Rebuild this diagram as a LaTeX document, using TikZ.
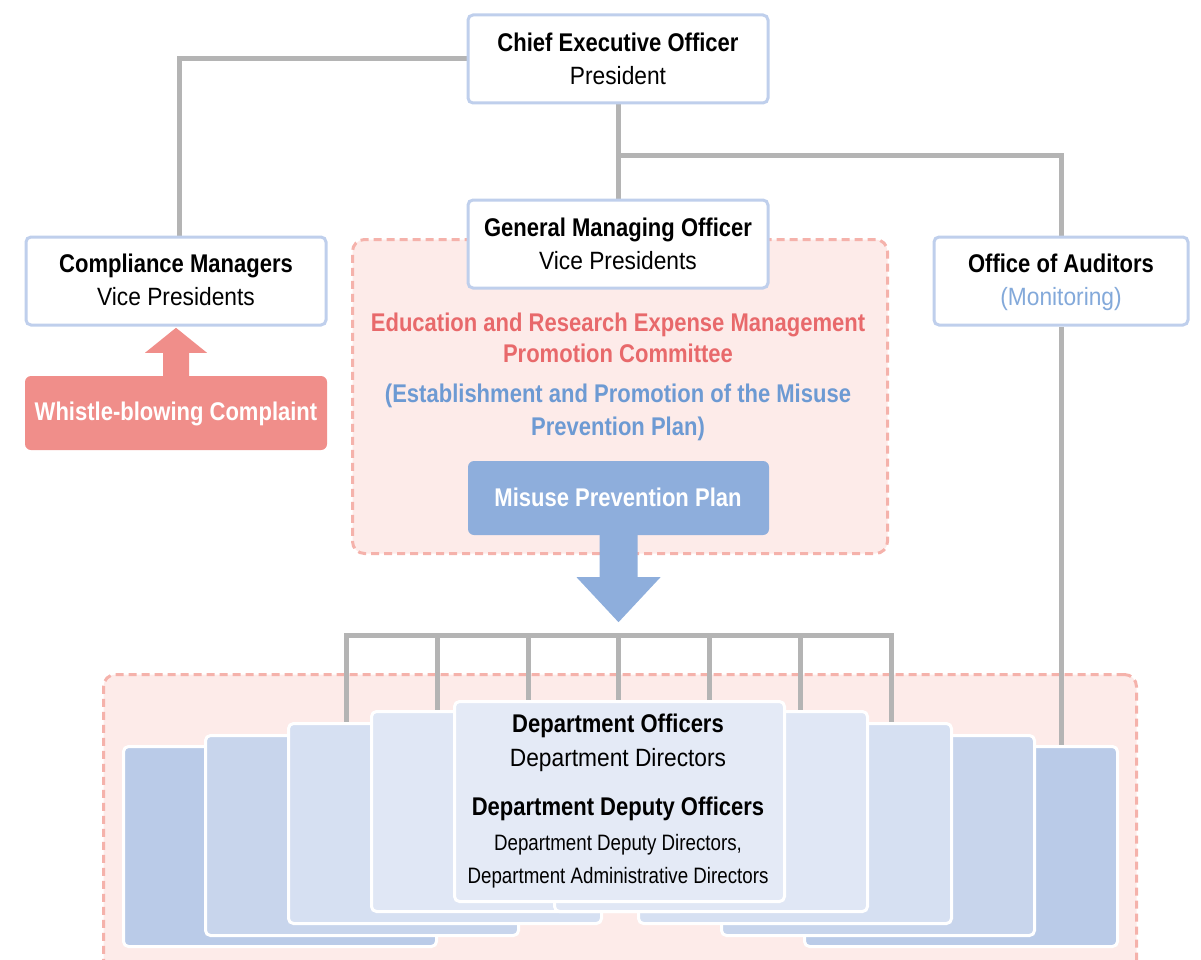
\documentclass[tikz,border=0pt]{standalone}
\usepackage{fontspec}
\setmainfont{Liberation Sans}[FakeStretch=0.91]
\newfontfamily\condb{Liberation Sans}[FakeStretch=0.86]
\newfontfamily\condn{Liberation Sans}[FakeStretch=0.84]
\usetikzlibrary{calc}
\pgfdeclarelayer{back}
\pgfdeclarelayer{lines}
\pgfsetlayers{back,lines,main}
\definecolor{boxblue}{HTML}{BFCFEC}
\definecolor{linegray}{HTML}{B4B4B4}
\definecolor{pinkfill}{HTML}{FDEBE9}
\definecolor{pinkdash}{HTML}{F5B2AB}
\definecolor{whistle}{HTML}{F08E8A}
\definecolor{redtext}{HTML}{E8696B}
\definecolor{bluetext}{HTML}{6D9AD3}
\definecolor{planblue}{HTML}{8EAEDC}
\definecolor{cardA}{HTML}{BACBE8}
\definecolor{cardB}{HTML}{C8D5EC}
\definecolor{cardC}{HTML}{D6E0F2}
\definecolor{cardD}{HTML}{E0E7F5}
\definecolor{cardE}{HTML}{E4EAF6}
\tikzset{
  wbox/.style={draw=boxblue, line width=3pt, fill=white, rounded corners=5pt, inner sep=0pt},
  region/.style={draw=pinkdash, fill=pinkfill, line width=3pt, dash pattern=on 8pt off 5pt, rounded corners=12pt, inner sep=0pt, anchor=north west},
  conn/.style={draw=linegray, line width=5pt, line join=miter},
  card/.style={draw=white, line width=3pt, rounded corners=5pt, inner sep=0pt, anchor=north west, minimum width=313pt, minimum height=200pt},
  tb/.style={font=\condb\bfseries\fontsize{25.6}{30}\selectfont, inner sep=0pt, anchor=base},
  tn/.style={font=\fontsize{25}{30}\selectfont, inner sep=0pt, anchor=base},
  ts/.style={font=\condn\fontsize{22.3}{26}\selectfont, inner sep=0pt, anchor=base},
}
\begin{document}
\begin{tikzpicture}[x=1pt,y=-1pt]
\useasboundingbox (0,0) rectangle (1201,960);
% dashed regions
\begin{pgfonlayer}{back}
\node[region, minimum width=535pt, minimum height=314pt] (committee) at (351,238) {};
\node[region, minimum width=1033pt, minimum height=320pt] (deptregion) at (102,673) {};
\end{pgfonlayer}
% boxes (shapes)
\node[wbox, minimum width=300pt, minimum height=88pt] (ceo) at (618,59) {};
\node[wbox, minimum width=300pt, minimum height=88pt] (comp) at (176,281) {};
\node[wbox, minimum width=300pt, minimum height=88pt] (gmo) at (618,244) {};
\node[wbox, minimum width=254pt, minimum height=88pt] (aud) at (1061,281) {};
\node[fill=whistle, rounded corners=6pt, inner sep=0pt, minimum width=302pt, minimum height=74pt] (wb) at (176,413) {};
\node[fill=planblue, rounded corners=6pt, inner sep=0pt, minimum width=301pt, minimum height=74pt] (plan) at (618.5,498) {};
% cards
\node[card, fill=cardA] (l1) at (122,745) {};
\node[card, fill=cardA] (r1) at (803,745) {};
\node[card, fill=cardB] (l2) at (204,734) {};
\node[card, fill=cardB] (r2) at (720,734) {};
\node[card, fill=cardC] (l3) at (287,722) {};
\node[card, fill=cardC] (r3) at (637,722) {};
\node[card, fill=cardD] (l4) at (370,710) {};
\node[card, fill=cardD] (r4) at (553,710) {};
\node[card, fill=cardE, minimum width=330pt] (dept) at (453,700) {};
% connectors
\coordinate (br) at (618,156);
\coordinate (b1) at (346,635);
\coordinate (b2) at (437,635);
\coordinate (b3) at (528,635);
\coordinate (b4) at (618,635);
\coordinate (b5) at (709,635);
\coordinate (b6) at (800,635);
\coordinate (b7) at (891,635);
\begin{pgfonlayer}{lines}
\draw[conn] (ceo.west) -| ([xshift=3pt]comp.north);
\draw[conn] (ceo.south) -- (gmo.north);
\draw[conn] (br) -| (aud.north);
\draw[conn] (aud.south) -- (aud.south |- r1.north);
\draw[conn] (b1 |- l3.north) -- (b1) -- (b7) -- (b7 |- r3.north);
\draw[conn] (b2) -- (b2 |- l4.north);
\draw[conn] (b3) -- (b3 |- dept.north);
\draw[conn] (b4) -- (b4 |- dept.north);
\draw[conn] (b5) -- (b5 |- dept.north);
\draw[conn] (b6) -- (b6 |- r4.north);
\end{pgfonlayer}
% arrows
\fill[whistle] ($(wb.north)+(-13,2)$) -- ($(wb.north)+(-13,-23)$) -- ($(wb.north)+(-31,-23)$)
  -- ($(wb.north)+(0,-48)$) -- ($(wb.north)+(31,-23)$) -- ($(wb.north)+(13,-23)$) -- ($(wb.north)+(13,2)$) -- cycle;
\fill[planblue] ($(plan.south)+(-19,-4)$) -- ($(plan.south)+(-19,42)$) -- ($(plan.south)+(-42,42)$)
  -- ($(plan.south)+(0,87)$) -- ($(plan.south)+(42,42)$) -- ($(plan.south)+(19,42)$) -- ($(plan.south)+(19,-4)$) -- cycle;
% texts
\node[tb] (ceoA) at (618,52) {Chief Executive Officer};
\node[tn] (ceoB) at (618,85) {President};
\node[tb] (compA) at (176,272) {Compliance Managers};
\node[tn] (compB) at (176,305) {Vice Presidents};
\node[tb] (gmoA) at (618,236) {General Managing Officer};
\node[tn] (gmoB) at (618,269) {Vice Presidents};
\node[tb] (audA) at (1061,272) {Office of Auditors};
\node[tn, text=bluetext!85!white] (audB) at (1061,305) {(Monitoring)};
\node[tb, text=white] (wbT) at (176,420) {Whistle-blowing Complaint};
\node[tb, text=redtext] (comA) at (618,331) {Education and Research Expense Management};
\node[tb, text=redtext] (comB) at (618,362) {Promotion Committee};
\node[tb, text=bluetext] (comC) at (618,402) {(Establishment and Promotion of the Misuse};
\node[tb, text=bluetext] (comD) at (618,435) {Prevention Plan)};
\node[tb, text=white] (planT) at (618,506) {Misuse Prevention Plan};
\node[tb] (dA) at (618,732) {Department Officers};
\node[tn] (dB) at (618,766) {Department Directors};
\node[tb] (dC) at (618,815) {Department Deputy Officers};
\node[ts] (dD) at (618,850) {Department Deputy Directors,};
\node[ts] (dE) at (618,883) {Department Administrative Directors};
\end{tikzpicture}
\end{document}
